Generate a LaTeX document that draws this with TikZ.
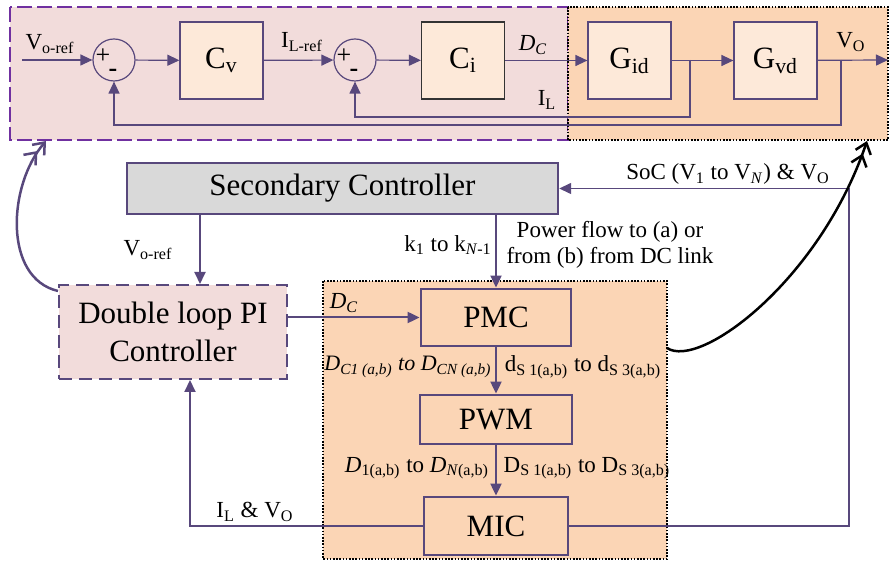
\documentclass[tikz,border=0pt]{standalone}
\usepackage{fontspec}
\setmainfont{Liberation Serif}
\usetikzlibrary{arrows.meta}

\definecolor{linec}{RGB}{88,72,124}
\definecolor{dashpurple}{RGB}{112,48,160}
\definecolor{pinkfill}{RGB}{242,220,219}
\definecolor{peach}{RGB}{251,213,181}
\definecolor{lightpeach}{RGB}{253,233,217}
\definecolor{greyfill}{RGB}{217,217,217}

\tikzset{
  blk/.style={draw=linec, fill=lightpeach, line width=0.6pt, minimum width=41.5pt,
    minimum height=38.5pt, inner sep=0pt, font=\fontsize{15.5}{18}\selectfont},
  sumc/.style={circle, draw=linec, fill=pinkfill, line width=0.6pt, minimum size=21pt, inner sep=0pt},
  sgn/.style={font=\fontsize{13}{13}\selectfont, inner sep=0pt},
  ctl/.style={draw=linec, fill=peach, line width=1.4pt, inner sep=0pt,
    font=\fontsize{15.5}{18}\selectfont},
  lbl/.style={font=\fontsize{11.5}{13}\selectfont, inner sep=1pt},
  sig/.style={->, linec, line width=0.6pt},
  link/.style={->, linec, line width=1pt},
  bendarrow/.style={-{Straight Barb[length=5pt,width=8pt,line width=1.25pt]
    Straight Barb[length=5pt,width=8pt,line width=1.25pt]}, line width=1.25pt},
}

\begin{document}
\begin{tikzpicture}[x=0.5pt, y=-0.5pt, >={Triangle[length=6pt,width=5.5pt]}]
    \useasboundingbox (0,0) rectangle (890,565);

    % Areas
    \draw[dashpurple, fill=pinkfill, line width=1.3pt, dash pattern=on 7.5pt off 2.5pt]
        (10,7) rectangle (568,140);
    \draw[black, fill=peach, line width=0.8pt, dash pattern=on 0.8pt off 0.8pt]
        (568,7) rectangle (888,140);
    \draw[black, fill=peach, line width=0.8pt, dash pattern=on 0.8pt off 0.8pt]
        (323,281) rectangle (667,559);

    % Control loop
    \node[sumc] (sum1) at (114,60) {};
    \node[sgn] (plus1) at (103,56) {+};
    \node[sgn] (minus1) at (113,73) {\textbf{-}};
    \node[blk] (Cv) at (221.5,60.5) {C\textsubscript{v}};
    \node[sumc] (sum2) at (355,60) {};
    \node[sgn] (plus2) at (344,56) {+};
    \node[sgn] (minus2) at (354,73) {\textbf{-}};
    \node[blk, draw=black!80] (Ci) at (463,60.5) {C\textsubscript{i}};
    \node[blk] (Gid) at (629.5,60.5) {G\textsubscript{id}};
    \node[blk] (Gvd) at (775.5,60.5) {G\textsubscript{vd}};

    \coordinate (vin) at (22,60);
    \coordinate (vout) at (888,60);
    \coordinate (jI) at (690,60);
    \coordinate (fbI) at (690,117);
    \coordinate (jV) at (841,60);
    \coordinate (fbV) at (841,125);

    \draw[sig] (vin) -- (sum1.west);
    \draw[sig] (sum1) -- (Cv);
    \draw[sig] (Cv) -- (sum2);
    \draw[sig] (sum2) -- (Ci);
    \draw[sig] (Ci) -- (Gid);
    \draw[sig] (Gid) -- (Gvd);
    \draw[sig] (Gvd) -- (vout);
    \draw[sig] (jI) -- (fbI) -| (sum2.south);
    \draw[sig] (jV) -- (fbV) -| (sum1.south);

    \node[lbl] (lVref) at (50,44) {V\textsubscript{o-ref}};
    \node[lbl] (lILref) at (302,42) {I\textsubscript{L-ref}};
    \node[lbl] (lDC) at (533,45) {\textit{D}\textsubscript{\textit{C}}};
    \node[lbl] (lVO) at (851,42) {V\textsubscript{O}};
    \node[lbl] (lIL) at (547,100) {I\textsubscript{L}};

    % Controllers
    \node[draw=linec, fill=greyfill, line width=1.2pt, minimum width=215.5pt, minimum height=25.5pt,
        inner sep=0pt, font=\fontsize{15.5}{18}\selectfont] (SC) at (342.5,188.5) {Secondary Controller};
    \node[draw=linec, fill=pinkfill, line width=1pt, dash pattern=on 6.5pt off 3.5pt,
        minimum width=114pt, minimum height=47pt, inner sep=0pt, align=center,
        font=\fontsize{15.5}{19}\selectfont] (DPI) at (173,332) {Double loop PI\\Controller};
    \node[ctl, minimum width=75pt, minimum height=28.5pt] (PMC) at (496,317.5) {PMC};
    \node[ctl, minimum width=76pt, minimum height=24.5pt] (PWM) at (496,419.5) {PWM};
    \node[ctl, minimum width=72pt, minimum height=29pt] (MIC) at (496,526) {MIC};

    \coordinate (socR) at (849,188.5);
    \coordinate (loopIn) at (46,141);
    \coordinate (convOut) at (667,348);
    \coordinate (plantIn) at (867,141);

    \draw[link] (200,0 |- SC.south) -- (200,0 |- DPI.north);
    \draw[link] (SC.south -| PMC.north) -- (PMC.north);
    \draw[link] (DPI.east |- PMC.west) -- (PMC.west);
    \draw[link] (PMC) -- (PWM);
    \draw[link] (PWM) -- (MIC);
    \draw[link] (MIC.west) -| (DPI.south -| 190,0);
    \draw[->, linec, line width=0.7pt] (MIC.east) -| (socR) -- (SC.east);

    % Curved links
    \draw[bendarrow, linec] ([yshift=-3.5pt]DPI.north west) .. controls (3,278) and (8,185) .. (loopIn);
    \draw[bendarrow, black] (convOut) .. controls (700,370) and (820,280) .. (plantIn);

    \node[lbl] (lVref2) at (148,250) {V\textsubscript{o-ref}};
    \node[lbl] (lk) at (448,245) {k\textsubscript{1} to k\textsubscript{\textit{N}-1}};
    \node[lbl, align=center] (lpf) at (610,245) {Power flow to (a) or\\from (b) from DC link};
    \node[lbl] (lsoc) at (728,174) {SoC (V\textsubscript{1} to V\textsubscript{\textit{N}}) \& V\textsubscript{O}};
    \node[lbl] (lDC2) at (344,303) {\textit{D}\textsubscript{\textit{C}}};
    \node[lbl, font=\fontsize{11}{13}\selectfont] (lDCn) at (408,367) {\textit{D\textsubscript{C1 (a,b)} to D\textsubscript{CN (a,b)}}};
    \node[lbl] (lds) at (583,367) {d\textsubscript{S 1(a,b)} to d\textsubscript{S 3(a,b)}};
    \node[lbl] (lDn) at (417,468) {\textit{D}\textsubscript{1(a,b)} to \textit{D}\textsubscript{\textit{N}(a,b)}};
    \node[lbl] (lDs) at (587,468) {D\textsubscript{S 1(a,b)} to D\textsubscript{S 3(a,b)}};
    \node[lbl] (lILVO) at (255,512) {I\textsubscript{L} \& V\textsubscript{O}};
\end{tikzpicture}
\end{document}
